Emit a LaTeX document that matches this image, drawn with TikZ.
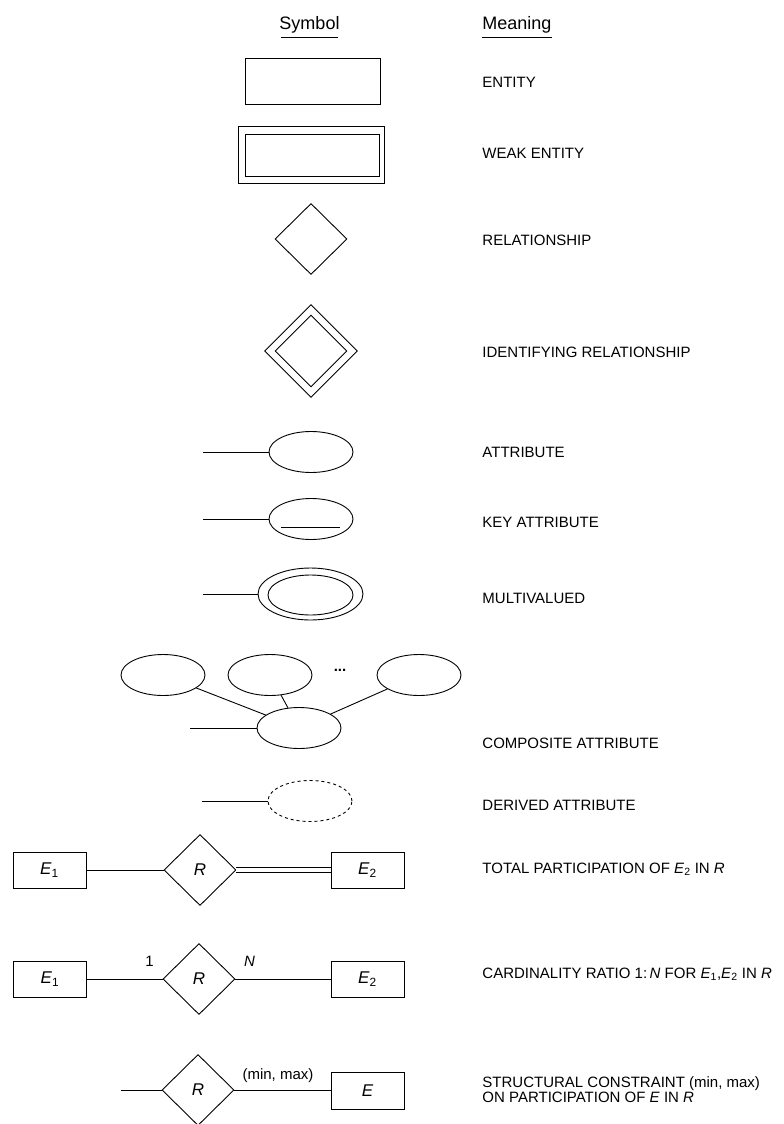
\documentclass[tikz,border=0pt]{standalone}
\usepackage{fontspec}
\setmainfont{Liberation Sans}
\usepackage{tikz}
\usetikzlibrary{positioning}
\usetikzlibrary{shapes.geometric}

\newcommand{\ename}[1]{\textit{E}\textsubscript{#1}}

\begin{document}
\begin{tikzpicture}[x=1pt,y=-1pt,line width=0.9pt,
  every node/.style={font=\fontsize{15}{14.5}\selectfont},
  hdr/.style={inner sep=0pt,font=\fontsize{18}{20}\selectfont},
  lbl/.style={anchor=base west,inner sep=0pt},
  ent/.style={draw,rectangle,inner sep=0pt,minimum width=73pt,minimum height=36pt,font=\fontsize{17}{18}\selectfont},
  rel/.style={draw,diamond,inner sep=0pt,minimum width=72pt,minimum height=71pt,font=\fontsize{17}{18}\selectfont},
  attr/.style={draw,ellipse,inner sep=0pt,minimum width=84pt,minimum height=41pt},
  total/.style={double,double distance=4.5pt}]
  \useasboundingbox (0,0) rectangle (784,1124);

  % headings
  \node[hdr,anchor=base] (hsym) at (309.5,30) {Symbol};
  \node[hdr,anchor=base west] (hmean) at (482,30) {Meaning};
  \draw ([xshift=2pt,yshift=-7.5pt]hsym.base west) -- ([xshift=-2pt,yshift=-7.5pt]hsym.base east);
  \draw ([yshift=-7.5pt]hmean.base west) -- ([yshift=-7.5pt]hmean.base east);

  % entity, weak entity
  \node[ent,minimum width=135pt,minimum height=46pt] (ent) at (312.5,81) {};
  \node[ent,minimum width=146pt,minimum height=57pt] (weak) at (311,154.5) {};
  \node[ent,minimum width=134pt,minimum height=42pt] (weakin) at (312,155) {};

  % relationship, identifying relationship
  \node[rel] (rel) at (311,239) {};
  \node[rel,minimum width=93pt,minimum height=93pt] (idrel) at (311,351) {};
  \node[rel,minimum width=72pt,minimum height=72pt] (idrelin) at (311,351) {};

  % attribute
  \node[attr] (att) at (311,452) {};
  \coordinate (att0) at (203,452);
  \draw (att0) -- (att);

  % key attribute
  \node[attr] (key) at (311,519) {};
  \coordinate (key0) at (203,519);
  \draw (key0) -- (key);
  \draw ([xshift=-30pt,yshift=-8pt]key.center) -- ([xshift=29pt,yshift=-8pt]key.center);

  % multivalued
  \node[attr,minimum width=105pt,minimum height=52pt] (mvo) at (310.5,594) {};
  \node[attr,minimum width=85pt,minimum height=40pt] (mvi) at (310.5,595) {};
  \coordinate (mv0) at (203,594);
  \draw (mv0) -- (mvo);

  % composite
  \node[attr] (comp1) at (163,675) {};
  \node[attr] (comp2) at (270,675) {};
  \node[attr] (comp3) at (419,675) {};
  \node (dots) at (340,670) {\textbf{...}};
  \node[attr] (comp) at (299,728) {};
  \coordinate (comp0) at (190,728);
  \draw (comp1) -- (comp);
  \draw (comp2) -- (comp);
  \draw (comp3) -- (comp);
  \draw (comp0) -- (comp);

  % derived
  \node[attr,dashed] (der) at (310,801) {};
  \coordinate (der0) at (202,801);
  \draw (der0) -- (der);

  % total participation
  \node[ent] (eA) at (49.5,870) {\ename{1}};
  \node[rel] (rA) at (200,870) {\textit{R}};
  \node[ent] (fA) at (367.5,870) {\ename{2}};
  \draw (eA) -- (rA);
  \draw[total] (rA) -- (fA);

  % cardinality ratio
  \node[ent] (eB) at (50,979) {\ename{1}};
  \node[rel] (rB) at (199,979) {\textit{R}};
  \node[ent] (fB) at (367.5,979) {\ename{2}};
  \draw (eB) -- (rB);
  \draw (rB) -- (fB);
  \node[above left=9pt and 5pt of rB.west] (one) {1};
  \node[above right=9pt and 5pt of rB.east] (many) {\textit{N}};

  % structural constraint
  \coordinate (rC0) at (121,1090);
  \node[rel] (rC) at (198,1090) {\textit{R}};
  \node[ent,minimum height=37pt] (eC) at (367.5,1091) {\textit{E}};
  \draw (rC0) -- (rC);
  \draw (rC) -- (eC.west |- rC);
  \node (mm) at (278,1076) {(min, max)};

  % meanings
  \node[lbl] (t1) at (482,87) {ENTITY};
  \node[lbl] (t2) at (482,158) {WEAK ENTITY};
  \node[lbl] (t3) at (482,245) {RELATIONSHIP};
  \node[lbl] (t4) at (482,357) {IDENTIFYING RELATIONSHIP};
  \node[lbl] (t5) at (482,457) {ATTRIBUTE};
  \node[lbl] (t6) at (482,527) {KEY ATTRIBUTE};
  \node[lbl] (t7) at (482,603) {MULTIVALUED};
  \node[lbl] (t8) at (482,748) {COMPOSITE ATTRIBUTE};
  \node[lbl] (t9) at (482,810) {DERIVED ATTRIBUTE};
  \node[lbl] (t10) at (482,873) {TOTAL PARTICIPATION OF \ename{2} IN \textit{R}};
  \node[lbl] (t11) at (482,978) {CARDINALITY RATIO 1:\,\textit{N} FOR \ename{1},\ename{2} IN \textit{R}};
  \node[lbl] (t12) at (482,1087) {STRUCTURAL CONSTRAINT (min, max)};
  \node[lbl] (t13) at ([yshift=-15pt]t12.base west) {ON PARTICIPATION OF \textit{E} IN \textit{R}};
\end{tikzpicture}
\end{document}
